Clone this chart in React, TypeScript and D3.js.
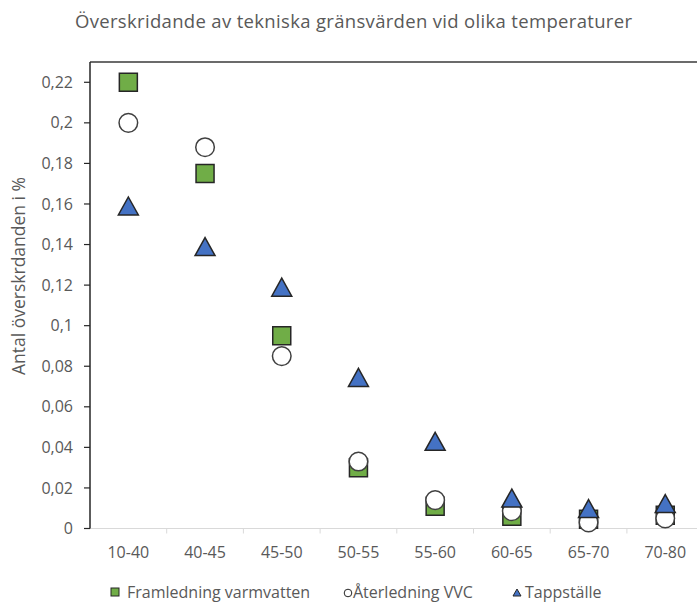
import React from "react";
import * as d3 from "d3";

// categories on the x axis (temperature intervals)
const categories = ["10-40", "40-45", "45-50", "50-55", "55-60", "60-65", "65-70", "70-80"];

// values, share of exceedances in %
const framledning = [0.22, 0.175, 0.095, 0.03, 0.011, 0.006, 0.0045, 0.0065];
const aterledning = [0.2, 0.188, 0.085, 0.033, 0.014, 0.0085, 0.003, 0.005];
const tappstalle = [0.159, 0.139, 0.119, 0.0745, 0.043, 0.015, 0.0098, 0.0123];

const yTicks = [0, 0.02, 0.04, 0.06, 0.08, 0.1, 0.12, 0.14, 0.16, 0.18, 0.2, 0.22];

const seriesNames = ["Framledning varmvatten", "Återledning VVC", "Tappställe"];

const W = 697;
const H = 602;
const FONT = "'Open Sans', sans-serif";
const GREY = "#595959";

// triangle with its bounding box centred on (0,0)
function triangle(w: number, h: number) {
  const p = d3.path();
  p.moveTo(0, -h / 2);
  p.lineTo(w / 2, h / 2);
  p.lineTo(-w / 2, h / 2);
  p.closePath();
  return p.toString();
}

const fmt = (v: number) => String(+v.toFixed(2)).replace(".", ",");

export default function App() {
  const x = d3.scaleBand<string>().domain(categories).range([90, 703.6]).padding(0);
  const y = d3.scaleLinear().domain([0, 0.23]).range([528.5, 62]);
  const cx = (c: string) => (x(c) as number) + x.bandwidth() / 2;

  const square = d3.symbol(d3.symbolSquare, 18 * 18)();
  const circle = d3.symbol(d3.symbolCircle, Math.PI * 9.3 * 9.3)();
  const tri = triangle(20, 18);

  const bottom = y(0);

  return (
    <svg width={W} height={H} style={{ display: "block", position: "absolute", left: 0, top: 0 }} fontFamily={FONT}>
      <rect width={W} height={H} fill="#fff" />
      <text x={75} y={28} fontSize={18.5} fill={GREY} textLength={557} lengthAdjust="spacing">
        Överskridande av tekniska gränsvärden vid olika temperaturer
      </text>

      {/* top border of plot area */}
      <line x1={90} x2={W} y1={62} y2={62} stroke="#3a3a3a" strokeWidth={1.5} />

      {/* x axis: zero line and tick marks between categories */}
      <line x1={90} x2={W} y1={bottom} y2={bottom} stroke="#d9d9d9" strokeWidth={1} />
      {categories.map((c) => (
        <line key={"xt" + c} x1={(x(c) as number) + x.bandwidth()} x2={(x(c) as number) + x.bandwidth()} y1={bottom} y2={bottom + 5} stroke="#d9d9d9" />
      ))}
      {categories.map((c) => (
        <text key={"xl" + c} x={cx(c)} y={558} textAnchor="middle" fontSize={16} fill={GREY}>
          {c}
        </text>
      ))}

      {/* y axis */}
      <line x1={90} x2={90} y1={62} y2={bottom} stroke="#262626" strokeWidth={1.5} />
      {yTicks.map((t) => (
        <g key={"yt" + t} transform={`translate(0,${y(t)})`}>
          <line x1={84} x2={90} stroke="#262626" strokeWidth={1.2} />
          <text x={73} dy="0.35em" textAnchor="end" fontSize={16} fill={GREY}>
            {fmt(t)}
          </text>
        </g>
      ))}
      <text transform="translate(25,276) rotate(-90)" textAnchor="middle" fontSize={17.5} fill={GREY}>
        Antal överskrdanden i %
      </text>

      {/* markers */}
      {framledning.map((v, i) => (
        <path key={"f" + i} d={square as string} transform={`translate(${cx(categories[i])},${y(v)})`} fill="#70ad47" stroke="#262626" strokeWidth={1.5} />
      ))}
      {aterledning.map((v, i) => (
        <path key={"a" + i} d={circle as string} transform={`translate(${cx(categories[i])},${y(v)})`} fill="#fff" stroke="#404040" strokeWidth={1.5} />
      ))}
      {tappstalle.map((v, i) => (
        <path key={"t" + i} d={tri} transform={`translate(${cx(categories[i])},${y(v)})`} fill="#4472c4" stroke="#262626" strokeWidth={1.5} />
      ))}

      {/* legend */}
      <g fontSize={16} fill={GREY}>
        <rect x={111} y={588} width={8} height={8} fill="#70ad47" stroke="#262626" strokeWidth={1} />
        <text x={127} y={598}>{seriesNames[0]}</text>
        <circle cx={348} cy={593} r={3.8} fill="#fff" stroke="#262626" strokeWidth={1} />
        <text x={353} y={598}>{seriesNames[1]}</text>
        <path d={triangle(8, 7)} transform="translate(517,592.5)" fill="#4472c4" stroke="#262626" strokeWidth={1} />
        <text x={525} y={598}>{seriesNames[2]}</text>
      </g>
    </svg>
  );
}
